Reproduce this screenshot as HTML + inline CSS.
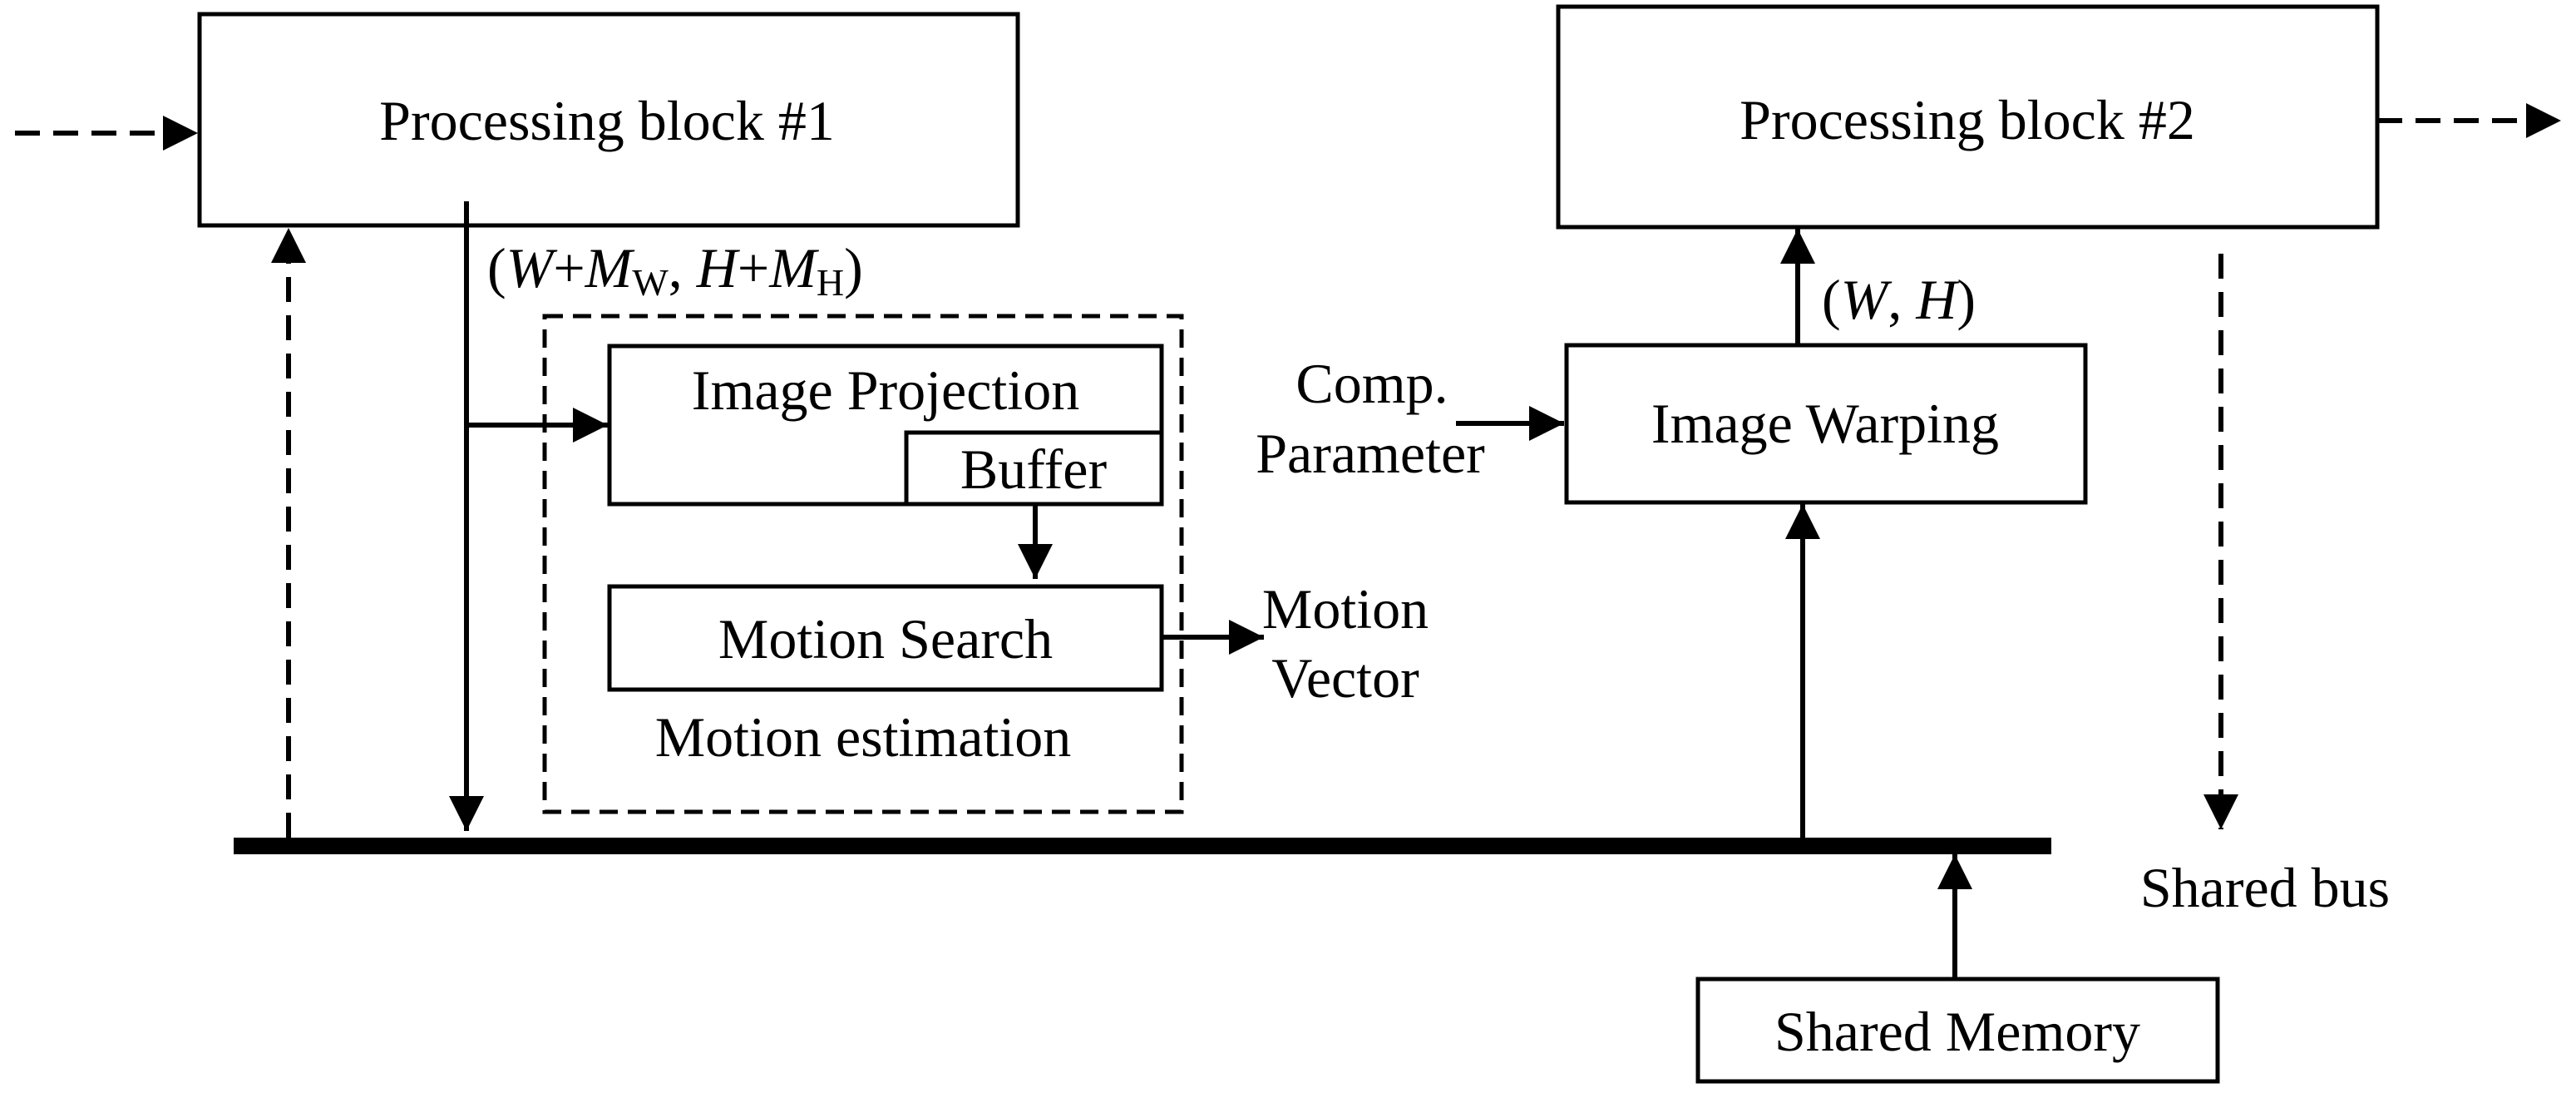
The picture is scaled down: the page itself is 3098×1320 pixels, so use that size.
<!DOCTYPE html>
<html><head><meta charset="utf-8"><style>html,body{margin:0;padding:0;background:#fff}svg{display:block}</style></head>
<body>
<svg width="3098" height="1320" viewBox="0 0 3098 1320" xmlns="http://www.w3.org/2000/svg" font-family="'Liberation Serif', serif" font-size="68" fill="#000">
<defs>
<marker id="ah" viewBox="0 0 10 10" refX="10" refY="5" markerWidth="42" markerHeight="42" markerUnits="userSpaceOnUse" orient="auto"><path d="M0,0 L10,5 L0,10 z" fill="#000"/></marker>
</defs>
<g fill="none" stroke="#000" stroke-width="5">
<rect x="240" y="17" width="984" height="254"/>
<rect x="1874" y="8" width="985" height="265"/>
<rect x="733" y="416" width="664" height="190"/>
<rect x="1090" y="520" width="307" height="86"/>
<rect x="733" y="705" width="664" height="124"/>
<rect x="1884" y="415" width="624" height="189"/>
<rect x="2042" y="1177" width="625" height="123"/>
<rect x="655" y="380" width="766" height="596" stroke-dasharray="22 12"/>
</g>
<g fill="none" stroke="#000" stroke-width="6">
<line x1="18" y1="160" x2="238" y2="160" stroke-dasharray="30 16" marker-end="url(#ah)"/>
<line x1="2859" y1="145" x2="3080" y2="145" stroke-dasharray="30 16" marker-end="url(#ah)"/>
<line x1="347" y1="1007" x2="347" y2="274" stroke-dasharray="30 16" marker-end="url(#ah)"/>
<line x1="2671" y1="305" x2="2671" y2="997" stroke-dasharray="30 16" marker-end="url(#ah)"/>
<line x1="561" y1="242" x2="561" y2="999" marker-end="url(#ah)"/>
<line x1="561" y1="511" x2="731" y2="511" marker-end="url(#ah)"/>
<line x1="1245" y1="606" x2="1245" y2="696" marker-end="url(#ah)"/>
<line x1="1397" y1="766" x2="1520" y2="766" marker-end="url(#ah)"/>
<line x1="2162" y1="415" x2="2162" y2="275" marker-end="url(#ah)"/>
<line x1="1751" y1="509" x2="1881" y2="509" marker-end="url(#ah)"/>
<line x1="2168" y1="1010" x2="2168" y2="606" marker-end="url(#ah)"/>
<line x1="2351" y1="1177" x2="2351" y2="1027" marker-end="url(#ah)"/>
</g>
<rect x="281" y="1007" width="2186" height="20" fill="#000"/>
<g text-anchor="middle">
<text x="730" y="168">Processing block #1</text>
<text x="2366" y="167">Processing block #2</text>
<text x="1065" y="492">Image Projection</text>
<text x="1243" y="587">Buffer</text>
<text x="1065" y="791">Motion Search</text>
<text x="1038" y="909">Motion estimation</text>
<text x="2195" y="532">Image Warping</text>
<text x="2354" y="1263">Shared Memory</text>
<text x="1650" y="484">Comp.</text>
<text x="1648" y="568">Parameter</text>
<text x="1618" y="755">Motion</text>
<text x="1618" y="838">Vector</text>
<text x="2724" y="1090">Shared bus</text>
</g>
<text x="586" y="345">(<tspan font-style="italic">W</tspan>+<tspan font-style="italic">M</tspan><tspan font-size="46" dy="10">W</tspan><tspan dy="-10">, </tspan><tspan font-style="italic">H</tspan>+<tspan font-style="italic">M</tspan><tspan font-size="46" dy="10">H</tspan><tspan dy="-10">)</tspan></text>
<text x="2191" y="383">(<tspan font-style="italic">W</tspan>, <tspan font-style="italic">H</tspan>)</text>
</svg>
</body></html>
